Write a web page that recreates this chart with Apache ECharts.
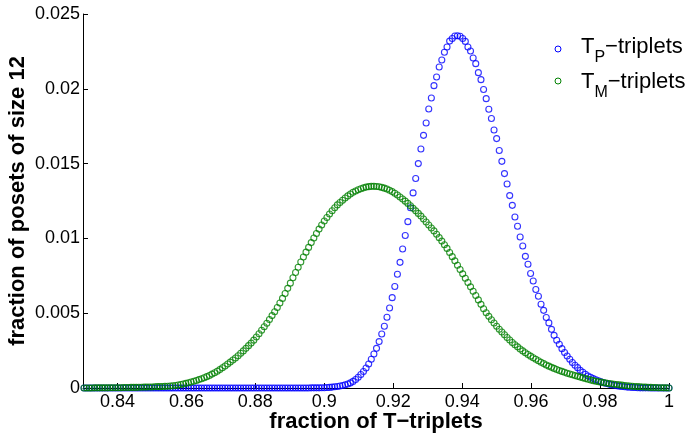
<!DOCTYPE html>
<html>
<head>
<meta charset="utf-8">
<script src="https://cdn.jsdelivr.net/npm/echarts@6/dist/echarts.min.js"></script>
<style>
  html, body { margin: 0; padding: 0; background: #ffffff; }
  #chart { width: 689px; height: 433px; }
</style>
</head>
<body>
<div id="chart"></div>
<script>
// Ordered triples of a 12-element set: 12 * 11 * 10
const TOTAL_TRIPLES = 1320;
// first triple count shown on the axis (x = count / TOTAL_TRIPLES)
const FIRST_COUNT = 1096;

const xTicks = [0.84, 0.86, 0.88, 0.9, 0.92, 0.94, 0.96, 0.98, 1];
const yTicks = [0, 0.005, 0.01, 0.015, 0.02, 0.025];

// legend entries: main letter, subscript, remainder
const legendEntries = [
  { main: 'T', sub: 'P', rest: '\u2212triplets' },
  { main: 'T', sub: 'M', rest: '\u2212triplets' }
];

// fraction of posets of size 12, one value per triple count (1096 ... 1320)
const tpTriplets = [
  0, 0, 0, 0, 0, 0, 0, 0, 0, 0,
  0, 0, 0, 0, 0, 0, 0, 0, 0, 0,
  0, 0, 0, 0, 0, 0, 0, 0, 0, 0,
  0, 0, 0, 0, 0, 0, 0, 0, 0, 0,
  0, 0, 0, 0, 0, 0, 0, 0, 0, 0,
  0, 0, 0, 0, 0, 0, 0, 0, 0, 0,
  0, 0, 0, 0, 0, 0, 0, 0, 0, 0,
  0, 0, 0, 0, 0, 0, 0, 0, 0, 0,
  0, 0, 0, 0, 0, 0, 0, 0.00001, 0.00001, 0.00001,
  0.00001, 0.00002, 0.00002, 0.00003, 0.00004, 0.00006, 0.00008, 0.0001, 0.00013, 0.00017,
  0.00021, 0.00027, 0.00034, 0.00044, 0.00057, 0.00072, 0.0009, 0.0011, 0.00134, 0.0016,
  0.00192, 0.00227, 0.00265, 0.0031, 0.00361, 0.00413, 0.00473, 0.00535, 0.00604, 0.00678,
  0.0076, 0.0084, 0.00929, 0.01019, 0.01112, 0.01205, 0.01304, 0.014, 0.015, 0.01598,
  0.01689, 0.01771, 0.01865, 0.01939, 0.02021, 0.02079, 0.02146, 0.02193, 0.02244, 0.02279,
  0.02319, 0.02336, 0.02353, 0.02355, 0.02351, 0.02336, 0.02317, 0.02279, 0.02253, 0.02206,
  0.02168, 0.02108, 0.02061, 0.01995, 0.01934, 0.01863, 0.01801, 0.01725, 0.01667, 0.01588,
  0.01515, 0.01433, 0.01364, 0.01286, 0.01221, 0.01143, 0.01081, 0.01009, 0.00949, 0.0088,
  0.00827, 0.00765, 0.00715, 0.00658, 0.00613, 0.0056, 0.00519, 0.00471, 0.00435, 0.00392,
  0.00352, 0.00319, 0.00292, 0.00263, 0.00237, 0.00214, 0.00192, 0.0017, 0.00152, 0.00136,
  0.00118, 0.00105, 0.00092, 0.0008, 0.00072, 0.00063, 0.00055, 0.00048, 0.00041, 0.00035,
  0.0003, 0.00026, 0.00022, 0.00018, 0.00015, 0.00012, 0.0001, 0.00008, 0.00006, 0.00005,
  0.00004, 0.00003, 0.00002, 0.00001, 0.00001, 0.00001, 0.00001, 0, 0, 0,
  0, 0, 0, 0, 0
];

const tmTriplets = [
  0, 0, 0, 0, 0.00001, 0.00001, 0.00001, 0.00001, 0.00001, 0.00001,
  0.00002, 0.00002, 0.00002, 0.00002, 0.00002, 0.00003, 0.00003, 0.00003, 0.00004, 0.00004,
  0.00004, 0.00005, 0.00005, 0.00006, 0.00006, 0.00007, 0.00007, 0.00008, 0.00009, 0.00009,
  0.0001, 0.00011, 0.00012, 0.00013, 0.00015, 0.00017, 0.0002, 0.00023, 0.00027, 0.00031,
  0.00035, 0.0004, 0.00045, 0.0005, 0.00056, 0.00062, 0.00069, 0.00076, 0.00084, 0.00093,
  0.00102, 0.00112, 0.00123, 0.00135, 0.00147, 0.0016, 0.00173, 0.00187, 0.00201, 0.00216,
  0.00232, 0.00248, 0.00265, 0.00283, 0.003, 0.0032, 0.00341, 0.00363, 0.00386, 0.00409,
  0.00433, 0.00458, 0.00484, 0.0051, 0.00538, 0.00568, 0.00599, 0.00632, 0.00666, 0.00701,
  0.00737, 0.00772, 0.00807, 0.00842, 0.00876, 0.00908, 0.0094, 0.00972, 0.01003, 0.01033,
  0.01062, 0.0109, 0.01116, 0.0114, 0.01163, 0.01185, 0.01205, 0.01224, 0.0124, 0.01255,
  0.0127, 0.01284, 0.01297, 0.01308, 0.01317, 0.01325, 0.01332, 0.01338, 0.01343, 0.01346,
  0.01348, 0.01348, 0.01347, 0.01345, 0.01341, 0.01336, 0.0133, 0.01322, 0.01313, 0.01302,
  0.0129, 0.01277, 0.01263, 0.01249, 0.01234, 0.01218, 0.01201, 0.01184, 0.01167, 0.01149,
  0.0113, 0.0111, 0.0109, 0.0107, 0.0105, 0.01028, 0.01005, 0.00982, 0.00958, 0.00933,
  0.00906, 0.00878, 0.0085, 0.00821, 0.00792, 0.00763, 0.00734, 0.00705, 0.00676, 0.00647,
  0.00618, 0.00589, 0.00559, 0.0053, 0.00503, 0.00479, 0.00456, 0.00434, 0.00413, 0.00393,
  0.00374, 0.00356, 0.00338, 0.00321, 0.00304, 0.00289, 0.00275, 0.00261, 0.00248, 0.00236,
  0.00224, 0.00213, 0.00202, 0.00192, 0.00182, 0.00172, 0.00163, 0.00154, 0.00146, 0.00138,
  0.00131, 0.00124, 0.00117, 0.00111, 0.00105, 0.00099, 0.00094, 0.00089, 0.00083, 0.00078,
  0.00073, 0.00068, 0.00063, 0.00058, 0.00053, 0.00049, 0.00045, 0.00042, 0.00039, 0.00036,
  0.00033, 0.0003, 0.00028, 0.00025, 0.00023, 0.00021, 0.00019, 0.00017, 0.00015, 0.00013,
  0.00012, 0.0001, 0.00009, 0.00008, 0.00007, 0.00006, 0.00005, 0.00004, 0.00003, 0.00003,
  0.00002, 0.00002, 0.00001, 0.00001, 0
];

const FONT = '"Liberation Sans", Arial, Helvetica, sans-serif';
const BLUE = '#0000ff';
const GREEN = '#008000';
const seriesColors = [BLUE, GREEN];

const fractionOf = i => (FIRST_COUNT + i) / TOTAL_TRIPLES;
const toPoints = values => values.map((v, i) => [fractionOf(i), v]);

const tickFormat = v => String(parseFloat(Number(v).toFixed(4)));

const axisCommon = {
  type: 'value',
  axisLine: { show: true, lineStyle: { color: '#000', width: 1 } },
  axisTick: { show: true, inside: true, length: 5, lineStyle: { color: '#000', width: 1 } },
  splitLine: { show: false },
  nameLocation: 'middle',
  nameMoveOverlap: false,
  nameTextStyle: { fontFamily: FONT, fontWeight: 'bold', fontSize: 22, color: '#000' }
};

const tickLabel = { fontFamily: FONT, fontSize: 18, color: '#000' };

const marker = color => ({
  color: 'rgba(0,0,0,0)',
  borderColor: color,
  borderWidth: 1.1
});

// legend: open-circle key plus "T" with a lowered subscript
const MAIN_SIZE = 22;
const SUB_SIZE = 16;
const measure = (() => {
  const ctx = document.createElement('canvas').getContext('2d');
  return (text, size) => {
    ctx.font = size + 'px ' + FONT;
    return ctx.measureText(text).width;
  };
})();

function legendGraphics() {
  const keyX = 558, textX = 581;
  const rowY = [47, 82];       // centre line of the main letters
  const keyY = [49, 81];       // centre of the circle keys
  const subDrop = 11;          // subscript centre below the main letters
  const items = [];
  legendEntries.forEach((e, i) => {
    items.push({
      type: 'circle',
      shape: { cx: keyX, cy: keyY[i], r: 3 },
      style: { fill: 'none', stroke: seriesColors[i], lineWidth: 1 },
      silent: true
    });
    const wMain = measure(e.main, MAIN_SIZE);
    const wSub = measure(e.sub, SUB_SIZE);
    const txt = (text, x, y, size) => ({
      type: 'text',
      x: x, y: y,
      style: {
        text: text, fill: '#000', font: size + 'px ' + FONT,
        align: 'left', verticalAlign: 'middle'
      },
      silent: true
    });
    items.push(txt(e.main, textX, rowY[i], MAIN_SIZE));
    items.push(txt(e.sub, textX + wMain, rowY[i] + subDrop, SUB_SIZE));
    items.push(txt(e.rest, textX + wMain + wSub, rowY[i], MAIN_SIZE));
  });
  return items;
}

const chart = echarts.init(document.getElementById('chart'), null, { renderer: 'canvas' });

chart.setOption({
  animation: false,
  backgroundColor: '#ffffff',
  grid: {
    left: 83, right: 20, top: 14, bottom: 45,
    containLabel: false,
    outerBoundsMode: 'none'
  },
  xAxis: Object.assign({}, axisCommon, {
    min: 0.83,
    max: 1,
    name: 'fraction of T\u2212triplets',
    nameGap: 23,
    axisTick: Object.assign({}, axisCommon.axisTick, { customValues: xTicks }),
    axisLabel: Object.assign({ customValues: xTicks, formatter: tickFormat, margin: 5 }, tickLabel)
  }),
  yAxis: Object.assign({}, axisCommon, {
    min: 0,
    max: 0.025,
    name: 'fraction of posets of size 12',
    nameGap: 54,
    axisTick: Object.assign({}, axisCommon.axisTick, { customValues: yTicks }),
    axisLabel: Object.assign({ customValues: yTicks, formatter: tickFormat, margin: 3 }, tickLabel)
  }),
  graphic: legendGraphics(),
  series: [
    {
      name: 'TP-triplets',
      type: 'scatter',
      symbol: 'circle',
      symbolSize: 6,
      itemStyle: marker(BLUE),
      data: toPoints(tpTriplets),
      emphasis: { disabled: true }
    },
    {
      name: 'TM-triplets',
      type: 'scatter',
      symbol: 'circle',
      symbolSize: 6,
      itemStyle: marker(GREEN),
      data: toPoints(tmTriplets),
      emphasis: { disabled: true }
    }
  ]
});
</script>
</body>
</html>
